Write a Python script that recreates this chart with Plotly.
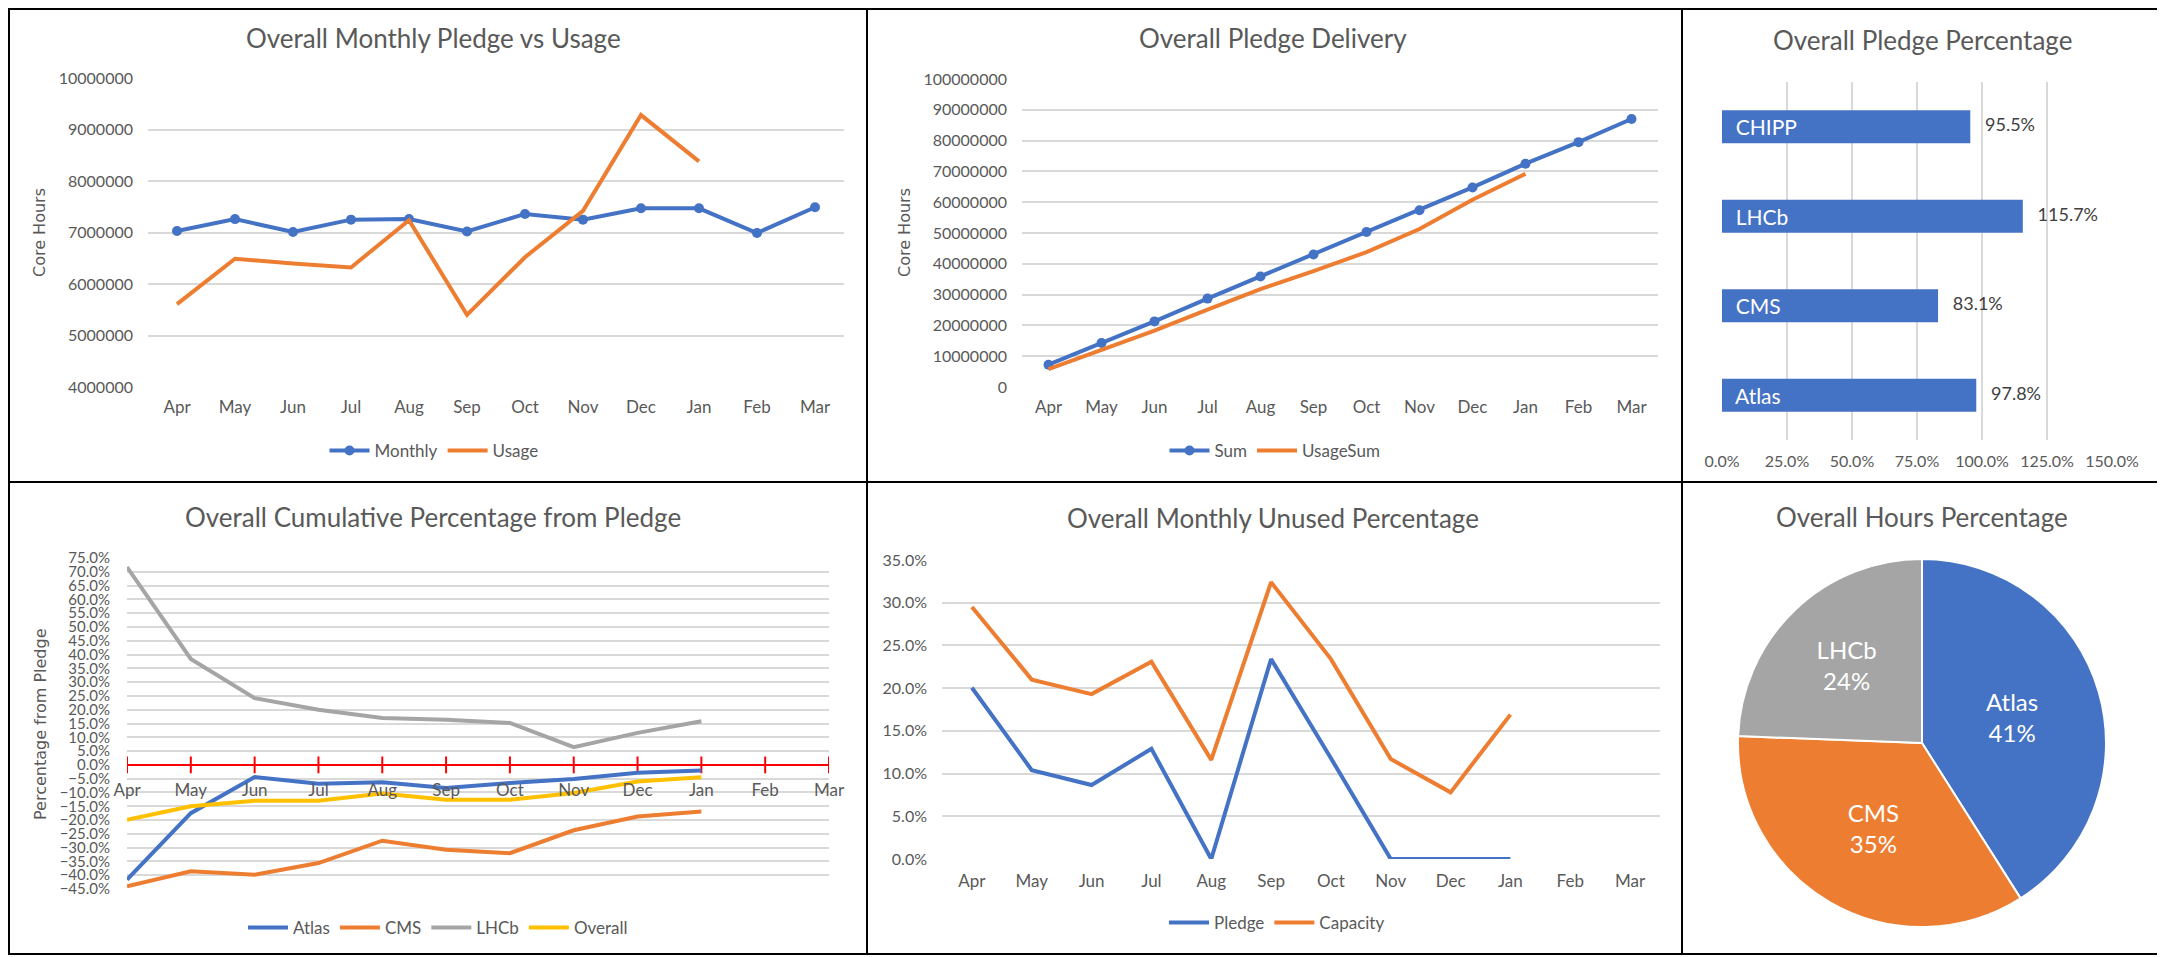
import plotly.graph_objects as go

#----- CANVAS -------------------------------------------------------------------
# the page body has the browser's default 8px margin, so the figure is shrunk
# by that much and all pixel positions below are page pixels shifted by it
PAGE_W, PAGE_H = 2165, 957
OFF = 8
W, H = PAGE_W - OFF, PAGE_H - OFF
FONT = 'Lato'
GREY_TXT = '#595959'
GRID = '#D9D9D9'
BLUE, ORANGE, GREY, YELLOW = '#4472C4', '#ED7D31', '#A5A5A5', '#FFC000'

#----- DATA --------------------------------------------------------------------
months = ['Apr', 'May', 'Jun', 'Jul', 'Aug', 'Sep',
          'Oct', 'Nov', 'Dec', 'Jan', 'Feb', 'Mar']

monthly_pledge = [7030000, 7260000, 7010000, 7250000, 7260000, 7020000,
                  7360000, 7250000, 7470000, 7470000, 6990000, 7490000]
monthly_usage = [5610000, 6490000, 6400000, 6320000, 7240000, 5400000,
                 6520000, 7420000, 9280000, 8380000]

pledge_sum = [7250000, 14300000, 21300000, 28700000, 35900000, 43000000,
              50300000, 57400000, 64800000, 72500000, 79500000, 87000000]
usage_sum = [5800000, 12100000, 18300000, 25100000, 31800000, 37600000,
             43800000, 51300000, 60800000, 69200000]

experiments = ['Atlas', 'CMS', 'LHCb', 'CHIPP']
pledge_pct = [0.978, 0.831, 1.157, 0.955]

cum_atlas = [-0.416, -0.175, -0.044, -0.068, -0.063, -0.084,
             -0.066, -0.051, -0.029, -0.020]
cum_cms = [-0.440, -0.386, -0.398, -0.356, -0.275, -0.308,
           -0.320, -0.237, -0.187, -0.169]
cum_lhcb = [0.717, 0.384, 0.242, 0.200, 0.170, 0.164,
            0.152, 0.064, 0.116, 0.158]
cum_overall = [-0.199, -0.150, -0.130, -0.130, -0.104, -0.126,
               -0.126, -0.102, -0.060, -0.045]

unused_pledge = [0.2005, 0.104, 0.0866, 0.129, 0.0, 0.234,
                 0.118, 0.0, 0.0, 0.0]
unused_capacity = [0.295, 0.210, 0.193, 0.231, 0.116, 0.324,
                   0.234, 0.117, 0.078, 0.169]

pie_labels = ['Atlas', 'CMS', 'LHCb']
pie_values = [41.0, 34.6, 24.4]


#----- HELPERS: page pixel -> paper --------------------------------------------
def fx(p):
    return (p - OFF) / W


def fy(p):
    return 1 - (p - OFF) / H


def dom_x(a, b):
    return [fx(a), fx(b)]


def dom_y(top, bottom):
    return [fy(bottom), fy(top)]


tick_font = dict(family=FONT, size=16, color=GREY_TXT)
cat_font = dict(family=FONT, size=17, color=GREY_TXT)


def cat_axis(domain, anchor, **kw):
    d = dict(domain=domain, anchor=anchor, type='category',
             categoryorder='array', categoryarray=months,
             range=[-0.5, len(months) - 0.5],
             showgrid=False, zeroline=False, showline=False, ticks='',
             tickfont=cat_font, automargin=False, ticklabelstandoff=8)
    d.update(kw)
    return d


def val_axis(domain, anchor, **kw):
    d = dict(domain=domain, anchor=anchor, showgrid=True, gridcolor=GRID,
             gridwidth=1.5, zeroline=False, showline=False, ticks='',
             tickfont=tick_font, automargin=False, ticklabelstandoff=14)
    d.update(kw)
    return d


fig = go.Figure()

#----- TOP LEFT: monthly pledge vs usage ---------------------------------------
fig.add_trace(go.Scatter(
    x=months, y=monthly_pledge, name='Monthly', mode='lines+markers',
    line=dict(color=BLUE, width=4), marker=dict(size=10, color=BLUE),
    xaxis='x', yaxis='y', legend='legend'))
fig.add_trace(go.Scatter(
    x=months[:len(monthly_usage)], y=monthly_usage, name='Usage',
    mode='lines', line=dict(color=ORANGE, width=4),
    xaxis='x', yaxis='y', legend='legend'))

#----- TOP MIDDLE: pledge delivery ---------------------------------------------
fig.add_trace(go.Scatter(
    x=months, y=pledge_sum, name='Sum', mode='lines+markers',
    line=dict(color=BLUE, width=4), marker=dict(size=10, color=BLUE),
    xaxis='x2', yaxis='y2', legend='legend2'))
fig.add_trace(go.Scatter(
    x=months[:len(usage_sum)], y=usage_sum, name='UsageSum', mode='lines',
    line=dict(color=ORANGE, width=4),
    xaxis='x2', yaxis='y2', legend='legend2'))

#----- TOP RIGHT: pledge percentage bars ---------------------------------------
fig.add_trace(go.Bar(
    x=pledge_pct, y=experiments, orientation='h', width=0.37,
    marker=dict(color=BLUE, line=dict(width=0)),
    text=['\u00a0\u00a0' + e for e in experiments], textposition='inside',
    insidetextanchor='start', constraintext='none', textangle=0,
    textfont=dict(family=FONT, size=21, color='white'),
    showlegend=False, hoverinfo='skip', xaxis='x3', yaxis='y3'))
fig.add_trace(go.Scatter(
    x=pledge_pct, y=experiments, mode='markers+text',
    text=[f'{v:.1%}' for v in pledge_pct], textposition='middle right',
    marker=dict(size=22, color='rgba(0,0,0,0)'),
    textfont=dict(family=FONT, size=18, color='#404040'),
    showlegend=False, hoverinfo='skip', xaxis='x3', yaxis='y3'))

#----- BOTTOM LEFT: cumulative percentage from pledge --------------------------
fig.add_trace(go.Scatter(
    x=months, y=[0] * len(months), mode='lines+markers',
    line=dict(color='#FF0000', width=2),
    marker=dict(symbol='line-ns', size=12,
                line=dict(color='#FF0000', width=2)),
    showlegend=False, hoverinfo='skip', xaxis='x4', yaxis='y4'))
for name, vals, col in [('Atlas', cum_atlas, BLUE), ('CMS', cum_cms, ORANGE),
                        ('LHCb', cum_lhcb, GREY),
                        ('Overall', cum_overall, YELLOW)]:
    fig.add_trace(go.Scatter(
        x=months[:len(vals)], y=vals, name=name, mode='lines',
        line=dict(color=col, width=4),
        xaxis='x4', yaxis='y4', legend='legend3'))

#----- BOTTOM MIDDLE: monthly unused percentage --------------------------------
fig.add_trace(go.Scatter(
    x=months[:len(unused_pledge)], y=unused_pledge, name='Pledge',
    mode='lines', line=dict(color=BLUE, width=4),
    xaxis='x5', yaxis='y5', legend='legend4'))
fig.add_trace(go.Scatter(
    x=months[:len(unused_capacity)], y=unused_capacity, name='Capacity',
    mode='lines', line=dict(color=ORANGE, width=4),
    xaxis='x5', yaxis='y5', legend='legend4'))

#----- BOTTOM RIGHT: hours percentage pie --------------------------------------
fig.add_trace(go.Pie(
    labels=pie_labels, values=pie_values, sort=False, direction='clockwise',
    rotation=0, marker=dict(colors=[BLUE, ORANGE, GREY],
                            line=dict(color='white', width=2)),
    texttemplate='%{label}<br>%{percent:.0%}', textposition='inside',
    insidetextorientation='horizontal',
    textfont=dict(family=FONT, size=24, color='white'),
    domain=dict(x=dom_x(1738, 2106), y=dom_y(559, 927)),
    showlegend=False, hoverinfo='skip'))

#----- AXES --------------------------------------------------------------------
bl_dom = dom_y(558, 889)
bl_lo, bl_hi = -0.45, 0.75
bl_zero = bl_dom[0] + (0 - bl_lo) / (bl_hi - bl_lo) * (bl_dom[1] - bl_dom[0])

fig.update_layout(
    xaxis=cat_axis(dom_x(148, 844), 'y'),
    yaxis=val_axis(dom_y(78, 387), 'x', range=[4000000, 10000000],
                   dtick=1000000, tickformat='d'),
    xaxis2=cat_axis(dom_x(1022, 1658), 'y2'),
    yaxis2=val_axis(dom_y(79, 387), 'x2', range=[0, 100000000],
                    dtick=10000000, tickformat='d'),
    xaxis3=val_axis(dom_x(1722, 2112), 'y3', range=[0, 1.5], dtick=0.25,
                    tickformat='.1%', ticklabelstandoff=10),
    yaxis3=dict(domain=dom_y(82, 440), anchor='x3', type='category',
                range=[-0.5, 3.5], showticklabels=False, showgrid=False,
                zeroline=False, showline=False, ticks='', automargin=False),
    xaxis4=cat_axis(dom_x(127, 829), 'free', position=bl_zero,
                    range=[0, len(months) - 1], ticklabelstandoff=13),
    yaxis4=val_axis(bl_dom, 'x4', range=[bl_lo, bl_hi], dtick=0.05,
                    tickformat='.1%', ticklabelstandoff=16,
                    tickfont=dict(family=FONT, size=15, color=GREY_TXT)),
    xaxis5=cat_axis(dom_x(942, 1660), 'y5', ticklabelstandoff=10),
    yaxis5=val_axis(dom_y(560, 859), 'x5', range=[0, 0.35], dtick=0.05,
                    tickformat='.1%'),
)

#----- LEGENDS -----------------------------------------------------------------
leg_font = dict(family=FONT, size=17, color=GREY_TXT)


def legend_at(cx, cy):
    return dict(x=fx(cx), y=fy(cy), xanchor='center', yanchor='middle',
                orientation='h', font=leg_font, bgcolor='rgba(0,0,0,0)',
                itemwidth=40)


fig.update_layout(
    legend=legend_at(434, 451),
    legend2=legend_at(1275, 451),
    legend3=legend_at(438, 928),
    legend4=legend_at(1277, 923),
)

#----- TITLES AND AXIS TITLES --------------------------------------------------
titles = [
    ('Overall Monthly Pledge vs Usage', 433, 38),
    ('Overall Pledge Delivery', 1273, 38),
    ('Overall Pledge Percentage', 1922, 40),
    ('Overall Cumulative Percentage from Pledge', 433, 517),
    ('Overall Monthly Unused Percentage', 1273, 518),
    ('Overall Hours Percentage', 1922, 517),
]
for text, cx, cy in titles:
    fig.add_annotation(
        text=text, xref='paper', yref='paper', x=fx(cx), y=fy(cy),
        xanchor='center', yanchor='middle', showarrow=False,
        font=dict(family=FONT, size=26, color=GREY_TXT))

for text, cx, cy in [('Core Hours', 39, 233), ('Core Hours', 904, 233),
                     ('Percentage from Pledge', 40, 724)]:
    fig.add_annotation(
        text=text, xref='paper', yref='paper', x=fx(cx), y=fy(cy),
        xanchor='center', yanchor='middle', showarrow=False, textangle=-90,
        font=dict(family='DejaVu Sans', size=16, color=GREY_TXT))

#----- PANEL FRAMES ------------------------------------------------------------
for x0, x1 in [(OFF + 1, 867), (867, 1682), (1682, 2160)]:
    for y0, y1 in [(OFF + 1, 482), (482, 954)]:
        fig.add_shape(type='rect', xref='paper', yref='paper',
                      x0=fx(x0), x1=fx(x1), y0=fy(y1), y1=fy(y0),
                      line=dict(color='black', width=2))

fig.update_layout(
    template='none',
    width=W, height=H,
    margin=dict(l=0, r=0, t=0, b=0),
    paper_bgcolor='white', plot_bgcolor='white',
    font=dict(family=FONT, color=GREY_TXT),
    hovermode=False,
)

fig.write_html('out.html')
